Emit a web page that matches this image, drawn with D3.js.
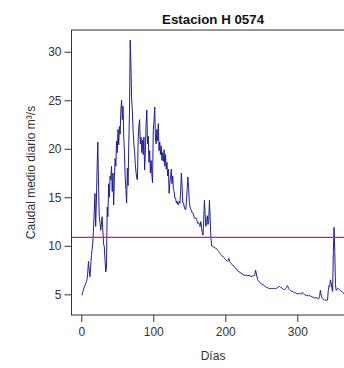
<!DOCTYPE html>
<html>
<head>
<meta charset="utf-8">
<script src="https://cdn.jsdelivr.net/npm/d3@7/dist/d3.min.js"></script>
<style>
  html, body { margin: 0; padding: 0; background: #fff; }
  svg { display: block; font-family: "Liberation Sans", Arial, sans-serif; }
</style>
</head>
<body>
<svg id="chart" width="344" height="368"></svg>
<script>
// Caudal medio diario (m³/s), día 1 a 365
const caudal = [
  4.9, 5.2, 5.5, 5.7, 5.9, 6.1, 6.3, 6.5, 7.2, 8.4, 7.5, 6.8,
  7.8, 9.0, 9.6, 10.3, 11.8, 13.5, 15.4, 12.0,
  14.5, 18.0, 20.7, 16.0, 13.0, 12.4, 11.6, 12.2, 13.0, 11.5,
  10.2, 9.9, 8.5, 7.3, 7.8, 14.0, 13.0, 16.4, 15.0, 17.2,
  16.8, 18.2, 15.6, 17.5, 14.2, 17.0, 19.0, 18.2, 20.8, 19.6,
  22.0, 20.4, 22.3, 21.5, 24.0, 25.0, 23.0, 24.4, 21.2, 19.5,
  17.1, 15.8, 14.4, 18.0, 16.2, 20.5, 24.0, 31.2, 28.5, 25.0,
  23.8, 21.9, 20.5, 19.8, 18.5, 17.6, 17.0, 16.8, 20.9, 22.4,
  23.0, 20.5, 21.2, 19.6, 20.9, 19.4, 21.2, 17.8, 19.6, 22.5,
  24.0, 20.5, 21.3, 18.6, 19.8, 17.5, 18.8, 17.4, 16.5, 21.9,
  22.8, 24.3, 21.0, 20.5, 22.0, 20.8, 22.6, 19.8, 20.7, 19.4,
  20.3, 18.8, 19.6, 18.7, 19.9, 18.2, 19.4, 17.9, 18.6, 17.2,
  17.9, 15.4, 16.5, 17.1, 17.9, 16.4, 17.2, 15.8, 15.6, 14.9,
  14.9, 14.4, 14.6, 14.3, 14.2, 14.6, 14.4, 15.7, 17.5, 16.2,
  14.4, 14.4, 14.0, 13.8, 13.7, 14.5, 15.8, 17.1, 16.0, 14.6,
  14.0, 13.8, 13.6, 13.4, 13.4, 13.2, 12.9, 12.8, 12.9, 12.7,
  12.5, 12.3, 12.4, 12.2, 12.0, 12.5, 11.8, 11.4, 11.1, 12.6,
  14.7, 13.2, 12.0, 12.4, 13.1, 12.2, 12.6, 14.7, 12.8, 10.9,
  10.0, 10.0, 9.9, 9.9, 9.8, 9.8, 9.7, 9.7, 9.6, 9.5,
  9.4, 9.3, 9.2, 9.1, 9.0, 8.9, 8.9, 8.8, 8.7, 8.6,
  8.5, 8.5, 8.4, 8.5, 8.7, 8.4, 8.3, 8.2, 8.1, 8.0,
  8.0, 7.9, 7.8, 7.7, 7.6, 7.5, 7.5, 7.4, 7.3, 7.3,
  7.2, 7.2, 7.1, 7.1, 7.0, 7.0, 7.0, 6.9, 7.0, 7.0,
  6.9, 6.9, 7.0, 6.9, 6.9, 6.8, 6.9, 6.9, 6.9, 6.9,
  7.0, 7.5, 7.2, 6.8, 6.5, 6.4, 6.3, 6.2, 6.1, 6.1,
  6.0, 6.0, 6.0, 5.9, 5.8, 5.8, 5.7, 5.7, 5.7, 5.6,
  5.6, 5.6, 5.6, 5.6, 5.6, 5.6, 5.6, 5.6, 5.6, 5.6,
  5.6, 5.7, 5.7, 5.8, 5.8, 5.8, 5.7, 5.7, 5.6, 5.6,
  5.5, 5.5, 5.5, 5.6, 5.7, 5.9, 5.8, 5.6, 5.5, 5.4,
  5.4, 5.3, 5.3, 5.3, 5.2, 5.2, 5.2, 5.1, 5.1, 5.1,
  5.0, 5.1, 5.1, 5.1, 5.0, 5.1, 5.2, 5.1, 5.0, 5.0,
  4.9, 4.9, 4.9, 4.9, 4.8, 4.9, 4.9, 4.8, 4.8, 4.8,
  4.7, 4.7, 4.7, 4.6, 4.6, 4.7, 4.6, 4.6, 4.5, 4.6,
  4.8, 5.4, 5.0, 4.7, 4.6, 4.5, 4.4, 4.4, 4.4, 4.4,
  4.4, 4.4, 5.4, 5.9, 5.8, 6.5, 6.2, 5.6, 5.3, 9.3,
  11.9, 9.5, 6.0, 5.4, 5.5, 5.6, 5.6, 5.5, 5.5, 5.4,
  5.3, 5.3, 5.2, 5.1, 5.1
];
const dias = caudal.map((_, i) => i + 1);

// Caudal medio de referencia (línea horizontal)
const caudalMedio = 10.86;

const xTicks = [0, 100, 200, 300];
const yTicks = [5, 10, 15, 20, 25, 30];
const xDominio = [-13.56, 379.56];
const yDominio = [2.87, 32.24];

const titulo = "Estacion H 0574";
const etiquetaX = "Días";
const etiquetaY = "Caudal medio diario m³/s";

// Plot region
const plot = { left: 71.5, right: 354.6, top: 30, bottom: 315 };

const svg = d3.select("#chart");

const x = d3.scaleLinear().domain(xDominio).range([plot.left, plot.right]);
const y = d3.scaleLinear().domain(yDominio).range([plot.bottom, plot.top]);

// Data line
const line = d3.line()
  .x((d, i) => x(dias[i]))
  .y(d => y(d));

svg.append("path")
  .datum(caudal)
  .attr("fill", "none")
  .attr("stroke", "#1e1e9e")
  .attr("stroke-width", 1)
  .attr("stroke-linejoin", "round")
  .attr("d", line);

// Mean flow line
svg.append("line")
  .attr("x1", plot.left)
  .attr("x2", plot.right)
  .attr("y1", y(caudalMedio))
  .attr("y2", y(caudalMedio))
  .attr("stroke", "#dd2233")
  .attr("stroke-width", 1.3);

// Frame
svg.append("rect")
  .attr("x", plot.left)
  .attr("y", plot.top)
  .attr("width", plot.right - plot.left)
  .attr("height", plot.bottom - plot.top)
  .attr("fill", "none")
  .attr("stroke", "#333")
  .attr("stroke-width", 1);

// Axes
const xAxis = d3.axisBottom(x).tickValues(xTicks).tickSize(7).tickPadding(5)
  .tickFormat(d3.format("d"));
const yAxis = d3.axisLeft(y).tickValues(yTicks).tickSize(7).tickPadding(3)
  .tickFormat(d3.format("d"));

const gx = svg.append("g")
  .attr("transform", `translate(0,${plot.bottom})`)
  .call(xAxis);
const gy = svg.append("g")
  .attr("transform", `translate(${plot.left},0)`)
  .call(yAxis);

[gx, gy].forEach(g => {
  g.select(".domain").remove();
  g.selectAll(".tick line").attr("stroke", "#333");
  g.selectAll(".tick text")
    .attr("fill", "#333")
    .style("font-size", "12px")
    .style("font-family", "'Liberation Sans', Arial, sans-serif");
});

// Title and axis labels
svg.append("text")
  .attr("x", (plot.left + plot.right) / 2)
  .attr("y", 24)
  .attr("text-anchor", "middle")
  .style("font-size", "13.3px")
  .style("font-weight", "bold")
  .attr("fill", "#111")
  .text(titulo);

svg.append("text")
  .attr("x", (plot.left + plot.right) / 2)
  .attr("y", 360)
  .attr("text-anchor", "middle")
  .style("font-size", "12px")
  .attr("fill", "#333")
  .text(etiquetaX);

svg.append("text")
  .attr("transform", `translate(35,${(plot.top + plot.bottom) / 2}) rotate(-90)`)
  .attr("text-anchor", "middle")
  .style("font-size", "12px")
  .attr("fill", "#333")
  .text(etiquetaY);
</script>
</body>
</html>
